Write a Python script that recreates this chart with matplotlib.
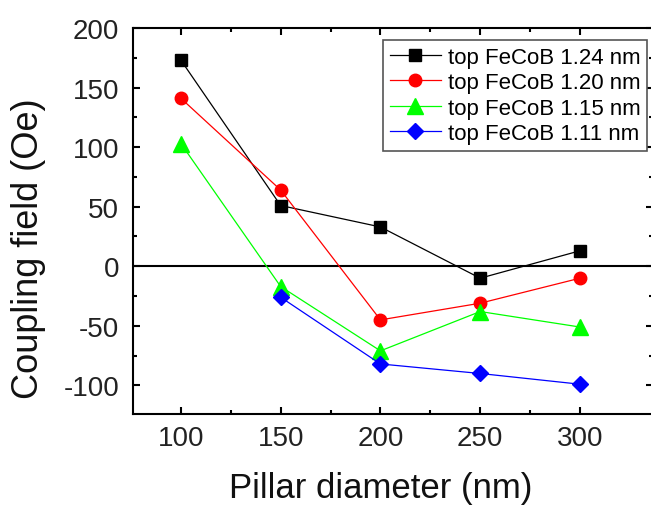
import matplotlib
matplotlib.use("Agg")
import matplotlib.pyplot as plt

plt.rcParams['font.family'] = ['Liberation Sans', 'DejaVu Sans']
plt.rcParams['axes.unicode_minus'] = False

diameters = [100, 150, 200, 250, 300]
fecob_124 = [173, 51, 33, -10, 13]
fecob_120 = [141, 64, -45, -31, -10]
fecob_115 = [103, -17, -71, -38, -51]
diam_111 = [150, 200, 250, 300]
fecob_111 = [-26, -82, -90, -99]

labels = ['top FeCoB 1.24 nm', 'top FeCoB 1.20 nm', 'top FeCoB 1.15 nm', 'top FeCoB 1.11 nm']

fig = plt.figure(figsize=(6.51, 5.06), dpi=100)
ax = fig.add_axes([133/651, 91/506, 520/651, (415-29)/506])

ax.axhline(0, color='black', lw=1.5, zorder=1)

ax.plot(diameters, fecob_124, color='black', lw=0.9, marker='s', ms=8, label=labels[0], zorder=3)
ax.plot(diameters, fecob_120, color='red', lw=0.9, marker='o', ms=9, label=labels[1], zorder=3)
ax.plot(diameters, fecob_115, color='#00ff00', lw=0.9, marker='^', ms=11, label=labels[2], zorder=3)
ax.plot(diam_111, fecob_111, color='blue', lw=0.9, marker='D', ms=8, label=labels[3], zorder=3)

ax.set_xlim(76, 336.6)
ax.set_ylim(-124, 200)
ax.set_xticks([100, 150, 200, 250, 300])
ax.set_xticks([125, 175, 225, 275], minor=True)
ax.set_yticks([-100, -50, 0, 50, 100, 150, 200])
ax.set_yticks([-75, -25, 25, 75, 125, 175], minor=True)

ax.tick_params(which='both', direction='in', top=True, right=True, width=1.5, labelsize=20, colors='black')
ax.tick_params(which='major', length=5, pad=8)
ax.tick_params(which='minor', length=3)
ax.tick_params(axis='x', labelcolor='#222222')
ax.tick_params(axis='y', labelcolor='#222222', pad=10)
for s in ['left', 'bottom', 'top', 'right']:
    ax.spines[s].set_linewidth(1.5)

ax.set_xlabel('Pillar diameter (nm)', fontsize=25, color='#111111')
ax.set_ylabel('Coupling field (Oe)', fontsize=26, color='#111111')
ax.xaxis.set_label_coords(0.477, -0.148)
ax.yaxis.set_label_coords(-0.168, 0.43)

leg = fig.legend(loc='upper right', bbox_to_anchor=(647/651, 1 - 41/506), fontsize=16,
                 frameon=True, fancybox=False, edgecolor='#555555', framealpha=1,
                 handlelength=2.3, handletextpad=0.3, labelspacing=0.2, borderpad=0.3,
                 borderaxespad=0)
leg.get_frame().set_linewidth(1.2)

fig.savefig('out.png', dpi=100)
